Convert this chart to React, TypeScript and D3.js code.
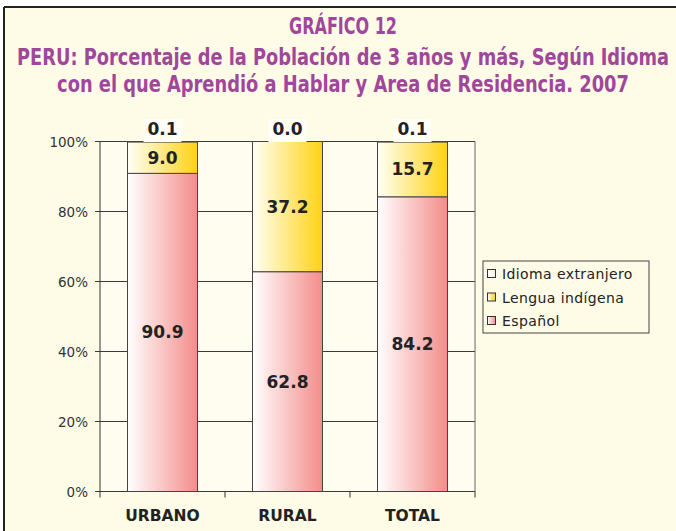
import React, { useLayoutEffect, useRef, useState } from "react";
import * as d3 from "d3";

const categories = ["URBANO", "RURAL", "TOTAL"];
const espanol = [90.9, 62.8, 84.2];
const indigena = [9.0, 37.2, 15.7];
const extranjero = [0.1, 0.0, 0.1];
const yTicks = [0, 20, 40, 60, 80, 100];
const seriesNames = ["Idioma extranjero", "Lengua indígena", "Español"];
const titleLines = [
  "GRÁFICO 12",
  "PERU: Porcentaje de la Población de 3 años y más, Según Idioma",
  "con el que Aprendió a Hablar y Area de Residencia. 2007",
];

const W = 676;
const H = 531;
const plot = { left: 100, right: 475, top: 141.5, bottom: 491.5 };
const purple = "#A0479B";
const cream = "#FEFBE7";

function FitText({ text, cx, y, width }: { text: string; cx: number; y: number; width: number }) {
  const ref = useRef<SVGTextElement>(null);
  const [sx, setSx] = useState(1);
  useLayoutEffect(() => {
    if (ref.current) {
      const w = ref.current.getComputedTextLength();
      if (w > 0) setSx(width / w);
    }
  }, [text, width]);
  return (
    <g transform={`translate(${cx},${y}) scale(${sx},1)`}>
      <text
        ref={ref}
        x={0}
        y={0}
        textAnchor="middle"
        fill={purple}
        fontFamily="'Liberation Sans Narrow', 'DejaVu Sans Condensed', 'Roboto', sans-serif"
        fontWeight="bold"
        fontSize={23}
      >
        {text}
      </text>
    </g>
  );
}

export default function App() {
  const rows = categories.map((c, i) => ({
    cat: c,
    esp: espanol[i],
    ind: indigena[i],
    ext: extranjero[i],
  }));
  const stack = d3.stack<any>().keys(["esp", "ind", "ext"])(rows);
  const x = d3
    .scaleBand<string>()
    .domain(categories)
    .range([plot.left, plot.right])
    .paddingInner(0.44)
    .paddingOuter(0.22);
  const xCat = d3.scaleBand<string>().domain(categories).range([plot.left, plot.right]);
  const y = d3.scaleLinear().domain([0, 100]).range([plot.bottom, plot.top]);
  const grads: Record<string, string> = { esp: "gEsp", ind: "gInd", ext: "gExt" };
  const legendKeys = ["ext", "ind", "esp"];
  const titleLens = [108, 652, 572];
  const titleY = [34, 65, 92];

  return (
    <svg
      width={W}
      height={H}
      style={{ position: "absolute", left: 0, top: 0, display: "block" }}
    >
      <defs>
        <linearGradient id="gEsp" x1="0" x2="1" y1="0" y2="0">
          <stop offset="0" stopColor="#FFFFFF" />
          <stop offset="1" stopColor="#F38C89" />
        </linearGradient>
        <linearGradient id="gInd" x1="0" x2="1" y1="0" y2="0">
          <stop offset="0" stopColor="#FFFFF8" />
          <stop offset="1" stopColor="#FFD214" />
        </linearGradient>
        <linearGradient id="gExt" x1="0" x2="1" y1="0" y2="0">
          <stop offset="0" stopColor="#FFFFFF" />
          <stop offset="1" stopColor="#F4F1E0" />
        </linearGradient>
      </defs>
      <rect x={0} y={0} width={W} height={H} fill="#FFFFFF" />
      <rect x={4} y={7} width={W - 4} height={H - 7} fill={cream} />
      <line x1={4} x2={W} y1={7} y2={7} stroke="#222" strokeWidth={2} />
      <line x1={4} x2={4} y1={7} y2={H} stroke="#222" strokeWidth={2} />

      {titleLines.map((t, i) => (
        <FitText key={i} text={t} cx={343} y={titleY[i]} width={titleLens[i]} />
      ))}

      <rect
        x={plot.left}
        y={plot.top}
        width={plot.right - plot.left}
        height={plot.bottom - plot.top}
        fill="#FFFDEF"
      />
      {yTicks.map((t) => (
        <g key={t}>
          <line
            x1={plot.left - 5}
            x2={plot.right}
            y1={y(t)}
            y2={y(t)}
            stroke="#3a3a3a"
            strokeWidth={1}
          />
          <text
            x={88}
            y={y(t) + 5}
            textAnchor="end"
            fontFamily="'DejaVu Sans', sans-serif"
            fontSize={13.5}
            fill="#333"
          >
            {t}%
          </text>
        </g>
      ))}
      <line x1={plot.left} x2={plot.left} y1={plot.top} y2={plot.bottom} stroke="#333" />
      <line x1={plot.right} x2={plot.right} y1={plot.top} y2={plot.bottom} stroke="#666" />
      {categories.map((c) => (
        <line
          key={"t" + c}
          x1={xCat(c)!}
          x2={xCat(c)!}
          y1={plot.bottom}
          y2={plot.bottom + 6}
          stroke="#333"
        />
      ))}
      <line x1={plot.right} x2={plot.right} y1={plot.bottom} y2={plot.bottom + 6} stroke="#333" />

      {stack.map((s) =>
        s.map((d, i) => {
          const bx = x(categories[i])!;
          const y0 = y(d[0]);
          const y1 = y(d[1]);
          return (
            <rect
              key={s.key + i}
              x={bx}
              y={y1}
              width={x.bandwidth()}
              height={Math.max(0, y0 - y1)}
              fill={`url(#${grads[s.key]})`}
              stroke="#444"
              strokeWidth={1}
            />
          );
        })
      )}

      {stack.map((s) =>
        s.map((d, i) => {
          const bx = x(categories[i])! + x.bandwidth() / 2;
          const val = d[1] - d[0];
          if (s.key === "ext") {
            const v = extranjero[i];
            return (
              <g key={"l" + s.key + i}>
                <rect x={bx - 19} y={119} width={38} height={23} fill="#FFFFF6" />
                <text
                  x={bx}
                  y={135}
                  textAnchor="middle"
                  fontFamily="'DejaVu Sans', sans-serif"
                  fontWeight="bold"
                  fontSize={17}
                  fill="#222"
                >
                  {v.toFixed(1)}
                </text>
              </g>
            );
          }
          return (
            <text
              key={"l" + s.key + i}
              x={bx}
              y={(y(d[0]) + y(d[1])) / 2 + 6}
              textAnchor="middle"
              fontFamily="'DejaVu Sans', sans-serif"
              fontWeight="bold"
              fontSize={17}
              fill="#222"
            >
              {val.toFixed(1)}
            </text>
          );
        })
      )}

      {categories.map((c) => (
        <text
          key={"c" + c}
          x={xCat(c)! + xCat.bandwidth() / 2}
          y={521}
          textAnchor="middle"
          fontFamily="'DejaVu Sans', sans-serif"
          fontWeight="bold"
          fontSize={15.5}
          fill="#222"
        >
          {c}
        </text>
      ))}

      <rect x={483} y={261} width={166} height={72} fill={cream} stroke="#444" />
      {legendKeys.map((k, i) => (
        <g key={"lg" + k}>
          <rect
            x={487.5}
            y={269.5 + i * 23.5}
            width={8}
            height={8}
            fill={`url(#${grads[k]})`}
            stroke="#333"
          />
          <text
            x={502}
            y={279 + i * 23.5}
            fontFamily="'DejaVu Sans', sans-serif"
            fontSize={14}
            fill="#222"
            letterSpacing={0.4}
          >
            {seriesNames[i]}
          </text>
        </g>
      ))}
    </svg>
  );
}
